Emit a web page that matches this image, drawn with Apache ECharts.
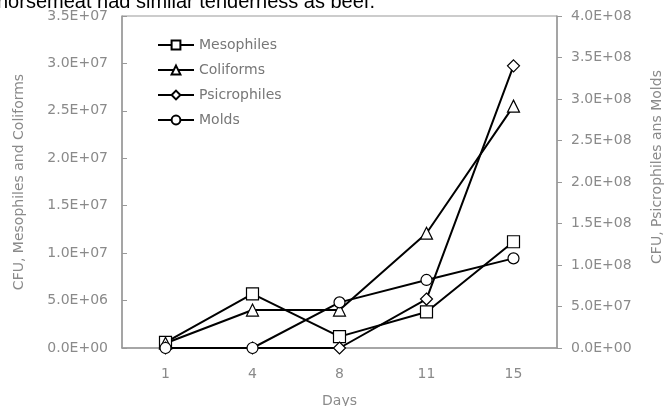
<!DOCTYPE html>
<html>
<head>
<meta charset="utf-8">
<script src="https://cdn.jsdelivr.net/npm/echarts@6/dist/echarts.min.js"></script>
<style>
  html, body { margin: 0; padding: 0; background: #fff; }
  #chart { width: 671px; height: 406px; }
</style>
</head>
<body>
<div id="chart"></div>
<script>
const days = ['1', '4', '8', '11', '15'];
const mesophiles = [0.6e6, 5.7e6, 1.2e6, 3.8e6, 11.2e6];
const coliforms = [0.5e6, 4.0e6, 4.0e6, 12.1e6, 25.5e6];
const psicrophiles = [0, 0, 0, 5.9e7, 3.4e8];
const molds = [0, 0, 5.5e7, 8.2e7, 1.08e8];

const font = 'DejaVu Sans';
const gray = '#8a8a8a';

const sci = v => {
    const s = v.toExponential(1).toUpperCase();
    const m = s.match(/^(.*)E([+-])(\d+)$/);
    return m[1] + 'E' + m[2] + m[3].padStart(2, '0');
};

const line = (name, data, symbol, size, axis) => ({
    name: name,
    type: 'line',
    yAxisIndex: axis,
    data: data,
    symbol: symbol,
    symbolSize: size,
    showAllSymbol: true,
    lineStyle: {color: '#000', width: 2},
    itemStyle: {color: '#fff', borderColor: '#000', borderWidth: 1.2},
    z: 3
});

const chart = echarts.init(document.getElementById('chart'));
chart.setOption({
    animation: false,
    backgroundColor: '#fff',
    grid: {
        left: 122, right: 114, top: 16, bottom: 58,
        containLabel: false,
        outerBoundsMode: 'none',
        show: true, borderColor: '#999', borderWidth: 1
    },
    legend: {
        orient: 'vertical',
        left: 152,
        top: 33,
        itemWidth: 36,
        itemHeight: 11,
        itemGap: 11,
        textStyle: {color: '#777', fontFamily: font, fontSize: 14},
        data: ['Mesophiles', 'Coliforms', 'Psicrophiles', 'Molds']
    },
    xAxis: {
        type: 'category',
        data: days,
        name: 'Days',
        nameLocation: 'middle',
        nameGap: 46,
        nameTextStyle: {color: gray, fontFamily: font, fontSize: 14},
        axisLine: {lineStyle: {color: '#999', width: 1.5}},
        axisTick: {lineStyle: {color: '#999'}, length: 5},
        axisLabel: {color: gray, fontFamily: font, fontSize: 14, margin: 19}
    },
    yAxis: [
        {
            type: 'value',
            min: 0,
            max: 3.5e7,
            interval: 5e6,
            name: 'CFU, Mesophiles and Coliforms',
            nameLocation: 'middle',
            nameGap: 96,
            nameTextStyle: {color: gray, fontFamily: font, fontSize: 14},
            axisLine: {show: true, lineStyle: {color: '#999', width: 1.5}},
            axisTick: {show: true, inside: true, length: 5, lineStyle: {color: '#999'}},
            axisLabel: {color: gray, fontFamily: font, fontSize: 14, margin: 14, formatter: sci},
            splitLine: {show: false}
        },
        {
            type: 'value',
            min: 0,
            max: 4e8,
            interval: 5e7,
            axisLine: {show: true, lineStyle: {color: '#999', width: 1.5}},
            axisTick: {show: true, length: 5, lineStyle: {color: '#999'}},
            axisLabel: {color: gray, fontFamily: font, fontSize: 14, margin: 14, formatter: sci},
            splitLine: {show: false}
        }
    ],
    graphic: [
        {
            type: 'text',
            left: -3,
            top: -8,
            style: {
                text: 'horsemeat had similar tenderness as beef.',
                fill: '#000',
                font: '20px "Liberation Sans", Arial, sans-serif'
            }
        },
        {
            type: 'text',
            x: 657,
            y: 167,
            rotation: Math.PI / 2,
            style: {
                text: 'CFU, Psicrophiles ans Molds',
                fill: gray,
                font: '14px "DejaVu Sans"',
                align: 'center',
                verticalAlign: 'middle'
            }
        }
    ],
    series: [
        line('Mesophiles', mesophiles, 'rect', 12, 0),
        line('Coliforms', coliforms, 'triangle', 12, 0),
        line('Psicrophiles', psicrophiles, 'diamond', 12, 1),
        line('Molds', molds, 'circle', 11, 1)
    ]
});
</script>
</body>
</html>
